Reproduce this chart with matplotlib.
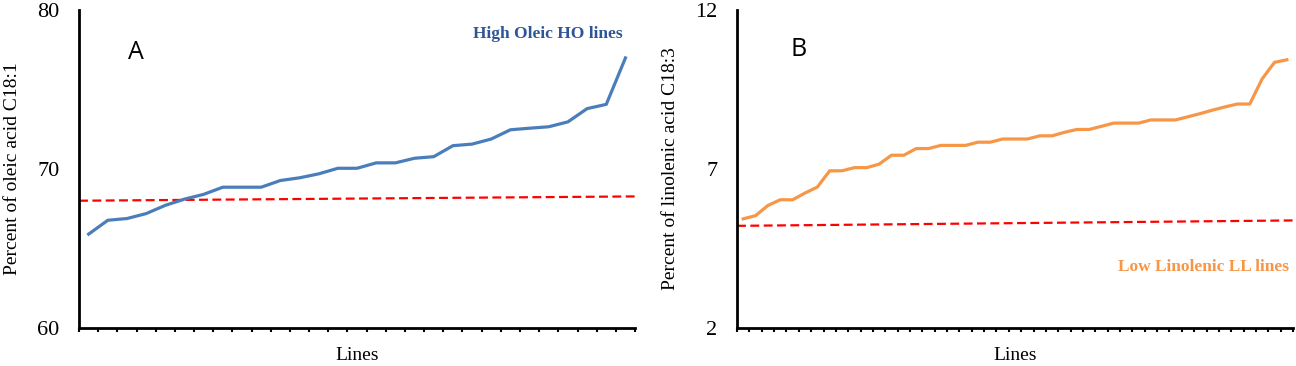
import matplotlib
matplotlib.use("Agg")
import matplotlib.pyplot as plt
import numpy as np

# ---- Data ----
oleic = [65.9, 66.77, 66.88, 67.19, 67.71, 68.1, 68.4, 68.85, 68.85, 68.85,
         69.27, 69.44, 69.69, 70.04, 70.04, 70.38, 70.38, 70.67, 70.77, 71.46,
         71.56, 71.88, 72.46, 72.56, 72.65, 72.96, 73.79, 74.06, 76.98]
oleic_ref = [68.0, 68.27]          # red dashed reference (start, end)

linolenic = [5.43, 5.53, 5.85, 6.03, 6.03, 6.24, 6.43, 6.94, 6.94, 7.04,
             7.04, 7.15, 7.43, 7.43, 7.64, 7.64, 7.74, 7.74, 7.74, 7.84,
             7.84, 7.94, 7.94, 7.94, 8.04, 8.04, 8.15, 8.24, 8.24, 8.34,
             8.44, 8.44, 8.44, 8.54, 8.54, 8.54, 8.64, 8.74, 8.85, 8.95,
             9.04, 9.04, 9.83, 10.35, 10.43]
linolenic_ref = [5.21, 5.38]

yticks_A = [60, 70, 80]
yticks_B = [2, 7, 12]

# ---- Style ----
serif = "Liberation Serif"
blue = "#4A7EBB"
orange = "#F79646"
blue_txt = "#2F5597"

fig = plt.figure(figsize=(12.96, 3.66), dpi=100)

def panel(rect, values, ref, yticks, ylabel, letter, letter_pos, note, note_pos, note_color, line_color):
    ax = fig.add_axes(rect)
    n = len(values)
    x = np.arange(1, n + 1)
    ax.plot(x, values, color=line_color, lw=2.3, solid_joinstyle="round", zorder=3)
    ax.plot([0.5, n + 0.5], ref, color="#FF0000", lw=1.6, ls=(0, (4, 2)), zorder=2)
    ax.set_xlim(0.5, n + 0.5)
    ax.set_ylim(yticks[0], yticks[-1])
    ax.set_yticks(yticks)
    ax.set_yticklabels([str(t) for t in yticks], fontfamily=serif, fontsize=16)
    ax.set_xticks(np.arange(0.5, n + 1.0, 1.0))
    ax.set_xticklabels([])
    ax.tick_params(axis="y", length=0, pad=14)
    ax.tick_params(axis="x", direction="out", length=3, width=1.5, color="black")
    for s in ["top", "right"]:
        ax.spines[s].set_visible(False)
    for s in ["left", "bottom"]:
        ax.spines[s].set_linewidth(2)
        ax.spines[s].set_color("black")
    ax.set_ylabel(ylabel, fontfamily=serif, fontsize=14, labelpad=12)
    ax.set_xlabel("Lines", fontfamily=serif, fontsize=14, labelpad=7)
    ax.text(letter_pos[0], letter_pos[1], letter, transform=ax.transAxes,
            fontfamily="Open Sans", fontsize=18, ha="center", va="center")
    ax.text(note_pos[0], note_pos[1], note, transform=ax.transAxes,
            fontfamily=serif, fontweight="bold", fontsize=12.5, color=note_color,
            ha="right", va="center")
    ax.patch.set_alpha(0)
    return ax

panel([0.061, 0.104, 0.429, 0.869], oleic, oleic_ref, yticks_A,
      "Percent of oleic acid C18:1", "A", (0.103, 0.865),
      "High Oleic HO lines", (0.978, 0.925), blue_txt, blue)
panel([0.5687, 0.104, 0.429, 0.869], linolenic, linolenic_ref, yticks_B,
      "Percent of linolenic acid C18:3", "B", (0.11, 0.877),
      "Low Linolenic LL lines", (0.993, 0.192), orange, orange)

fig.savefig("out.png", dpi=100)
